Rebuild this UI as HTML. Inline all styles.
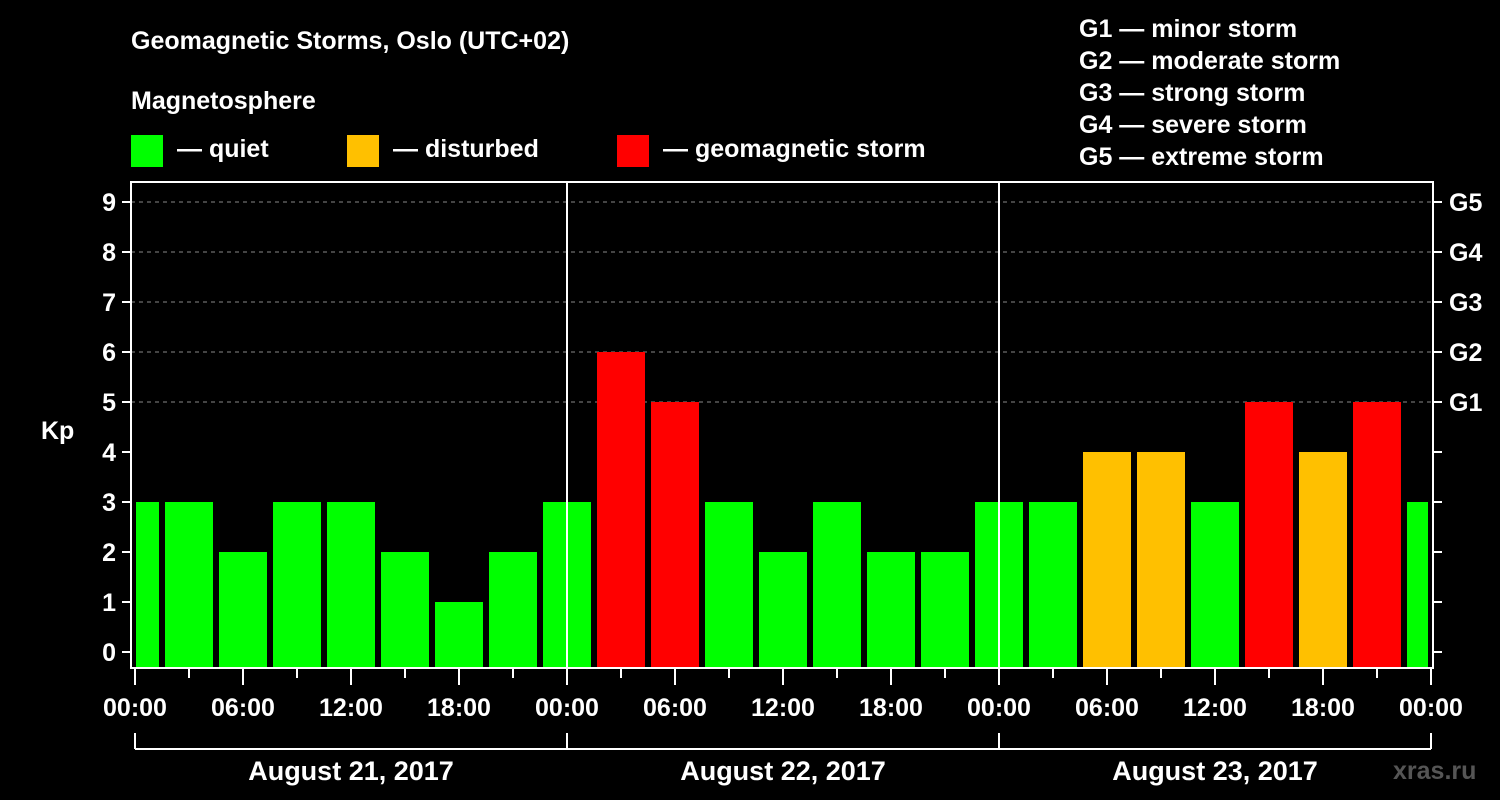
<!DOCTYPE html>
<html><head><meta charset="utf-8"><style>
body{margin:0;background:#000;}
svg{display:block;font-family:"Liberation Sans",Arial,sans-serif;font-weight:bold;}
</style></head><body>
<svg id="c" width="1500" height="800" viewBox="0 0 1500 800">
<rect width="1500" height="800" fill="#000"/>
<text x="131" y="49" fill="#fff" font-size="25">Geomagnetic Storms, Oslo (UTC+02)</text>
<text x="131" y="109" fill="#fff" font-size="25">Magnetosphere</text>
<g><rect x="131" y="135" width="32" height="32" fill="#00ff00"/><text x="177" y="157" fill="#fff" font-size="25">— quiet</text></g>
<g><rect x="347" y="135" width="32" height="32" fill="#ffc000"/><text x="393" y="157" fill="#fff" font-size="25">— disturbed</text></g>
<g><rect x="617" y="135" width="32" height="32" fill="#ff0000"/><text x="663" y="157" fill="#fff" font-size="25">— geomagnetic storm</text></g>
<g fill="#fff" font-size="25">
<text x="1079" y="37">G1 — minor storm</text>
<text x="1079" y="69">G2 — moderate storm</text>
<text x="1079" y="101">G3 — strong storm</text>
<text x="1079" y="133">G4 — severe storm</text>
<text x="1079" y="165">G5 — extreme storm</text>
</g>
<text x="41" y="439" fill="#fff" font-size="25">Kp</text>
<text x="1393" y="779" fill="#555" font-size="25">xras.ru</text>
<g id="plot"></g>
</svg>
<script>
const kpValues=[3,3,2,3,3,2,1,2,3,6,5,3,2,3,2,2,3,3,4,4,3,5,4,5,3];
const barCenterHours=[-0.5,3.5,7.5]; // unused placeholder
const dayLabels=["August 21, 2017","August 22, 2017","August 23, 2017"];
const hourLabels=["00:00","06:00","12:00","18:00"];
const gLabels=["G1","G2","G3","G4","G5"];
const NS="http://www.w3.org/2000/svg";
const g=document.getElementById('plot');
const L=131,R=1433,T=182,B=668,X0=135,PXH=18;
const x=h=>X0+h*PXH;
const y=v=>652-50*v;
function el(t,a,txt){const e=document.createElementNS(NS,t);for(const k in a)e.setAttribute(k,a[k]);if(txt!==undefined)e.textContent=txt;g.appendChild(e);return e;}
// gridlines
for(let v=5;v<=9;v++){const e=el('line',{x1:L,x2:R,y1:y(v),y2:y(v),stroke:'#888','stroke-dasharray':'4,4','stroke-width':1});

}
// bars
kpValues.forEach((v,i)=>{const c=x(-0.5+4*0+3*i-0.5+0.5);
const center=x(-1.5+3*i+0.5)+0; // local centers: -0.5h? computed below
const ch=-0.5+3*i-0+0; const cx=X0+( -0.5+3*i)*PXH+9*0;
let x1=X0+(-0.5+3*i)*PXH-24+9, x2=x1+48;
x1=Math.max(x1,136);x2=Math.min(x2,1428);
const col=v>=5?'#ff0000':(v>=4?'#ffc000':'#00ff00');
const r=el('rect',{x:x1,y:y(v),width:x2-x1,height:667-y(v),fill:col});

});
// day lines
for(let d=1;d<3;d++){const e=el('line',{x1:x(24*d),x2:x(24*d),y1:T,y2:B,stroke:'#fff','stroke-width':2});

}
// frame
const f=el('rect',{x:L,y:T,width:R-L,height:B-T,fill:'none',stroke:'#fff','stroke-width':2});


// y ticks
for(let v=0;v<=9;v++){el('line',{x1:L-9,x2:L,y1:y(v),y2:y(v),stroke:'#fff','stroke-width':2});
el('line',{x1:R,x2:R+9,y1:y(v),y2:y(v),stroke:'#fff','stroke-width':2});
const t=el('text',{x:116,y:y(v)+9,fill:'#fff','font-size':25,'text-anchor':'end'},String(v));

}
gLabels.forEach((s,i)=>{const t=el('text',{x:1449,y:y(5+i)+9,fill:'#fff','font-size':25},s);

});
// x ticks
for(let h=0;h<=72;h+=3){const major=h%6===0;el('line',{x1:x(h),x2:x(h),y1:B,y2:B+(major?17:10),stroke:'#fff','stroke-width':2});}
for(let h=0;h<=72;h+=6){const t=el('text',{x:x(h),y:716,fill:'#fff','font-size':25,'text-anchor':'middle'},hourLabels[(h/6)%4]);

}
// brackets
el('line',{x1:x(0),x2:x(72),y1:749,y2:749,stroke:'#fff','stroke-width':2});
for(let d=0;d<=3;d++)el('line',{x1:x(24*d),x2:x(24*d),y1:733,y2:749,stroke:'#fff','stroke-width':2});
dayLabels.forEach((s,i)=>{const t=el('text',{x:x(24*i+12),y:780,fill:'#fff','font-size':27,'text-anchor':'middle'},s);

});
</script>
</body></html>
